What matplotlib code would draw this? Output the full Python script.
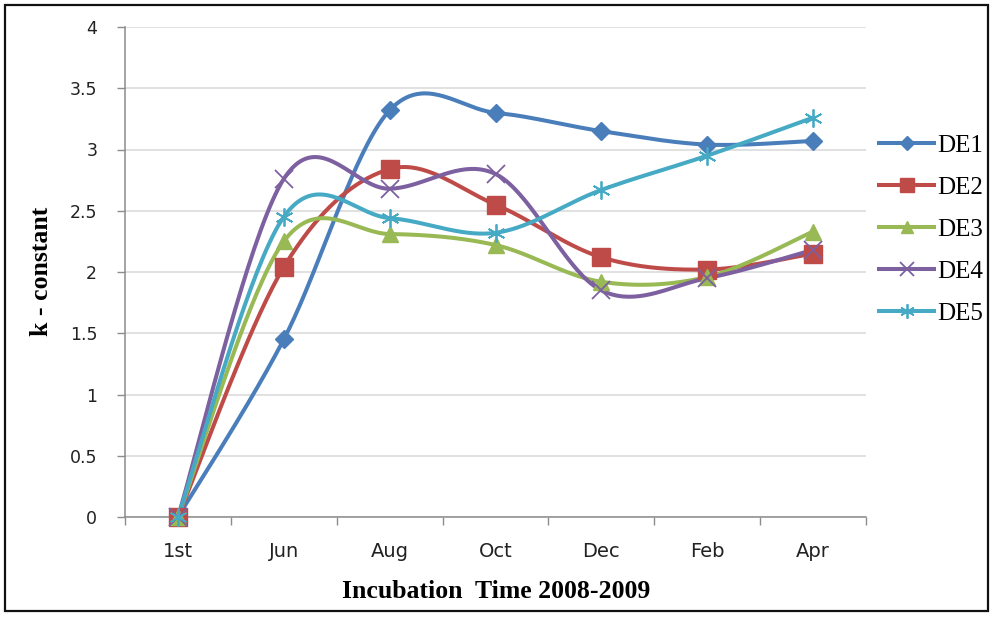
import numpy as np
import matplotlib
matplotlib.use("Agg")
import matplotlib.pyplot as plt
from matplotlib.patches import Rectangle

# Sampling months and decomposition constants for each plot
months = ["1st", "Jun", "Aug", "Oct", "Dec", "Feb", "Apr"]
de1 = [0.0, 1.45, 3.32, 3.30, 3.15, 3.04, 3.07]
de2 = [0.0, 2.04, 2.84, 2.55, 2.12, 2.02, 2.15]
de3 = [0.0, 2.25, 2.31, 2.22, 1.92, 1.96, 2.33]
de4 = [0.0, 2.76, 2.68, 2.80, 1.85, 1.95, 2.18]
de5 = [0.0, 2.45, 2.44, 2.32, 2.67, 2.95, 3.26]
series_names = ["DE1", "DE2", "DE3", "DE4", "DE5"]
series_vals = [de1, de2, de3, de4, de5]

colors = ["#4A7EBB", "#BE4B48", "#98B954", "#7D60A0", "#46AAC5"]
markers = ["D", "s", "^", "x", (6, 2, 0)]
msizes = [9.5, 12.5, 11.5, 12.5, 13]


def smooth_curve(x, y, n=40):
    """Catmull-Rom style cubic Bezier through every point."""
    x = np.asarray(x, float)
    y = np.asarray(y, float)
    px = np.concatenate([[x[0]], x, [x[-1]]])
    py = np.concatenate([[y[0]], y, [y[-1]]])
    t = np.linspace(0, 1, n)
    xs, ys = [], []
    for i in range(len(x) - 1):
        p0 = np.array([px[i], py[i]])
        p1 = np.array([px[i + 1], py[i + 1]])
        p2 = np.array([px[i + 2], py[i + 2]])
        p3 = np.array([px[i + 3], py[i + 3]])
        c1 = p1 + (p2 - p0) / 6.0
        c2 = p2 - (p3 - p1) / 6.0
        b = (((1 - t) ** 3)[:, None] * p1 + (3 * (1 - t) ** 2 * t)[:, None] * c1
             + (3 * (1 - t) * t ** 2)[:, None] * c2 + (t ** 3)[:, None] * p2)
        xs.append(b[:, 0])
        ys.append(b[:, 1])
    return np.concatenate(xs), np.concatenate(ys)


fig = plt.figure(figsize=(9.93, 6.17), dpi=100)
W, H = 993, 617
ax = fig.add_axes([125 / W, (H - 517) / H, 741 / W, 490 / H])

xpos = np.arange(len(months))
for name, vals, c, m, ms in zip(series_names, series_vals, colors, markers, msizes):
    sx, sy = smooth_curve(xpos, vals)
    ax.plot(sx, sy, color=c, lw=2.9, solid_capstyle="round", zorder=3, clip_on=False)
    mew = 1.3 if (m == "x" or isinstance(m, tuple)) else 1.0
    ax.plot(xpos, vals, linestyle="none", marker=m, markersize=ms, color=c,
            markeredgecolor=c, markeredgewidth=mew, zorder=4, clip_on=False)
    # legend proxy
    ax.plot([], [], color=c, lw=2.9, marker=m, markersize=ms * 0.8,
            markeredgewidth=mew, label=name)

ax.set_xlim(-0.5, len(months) - 0.5)
ax.set_ylim(0, 4)
ax.set_yticks(np.arange(0, 4.01, 0.5))
ax.set_yticklabels(["0", "0.5", "1", "1.5", "2", "2.5", "3", "3.5", "4"],
                   fontfamily="DejaVu Sans", fontsize=12.5, color="#222222")
ax.set_xticks(xpos)
ax.set_xticklabels(months, fontfamily="DejaVu Sans", fontsize=14, color="#222222")
ax.set_xticks(np.arange(-0.5, len(months)), minor=True)
ax.tick_params(axis="x", which="major", length=0, pad=18)
ax.tick_params(axis="x", which="minor", length=6, width=1, color="#8C8C8C",
               direction="out")
ax.tick_params(axis="y", length=6, width=1, color="#8C8C8C", direction="out", pad=14)

ax.grid(axis="y", color="#D9D9D9", lw=1.1, zorder=0)
ax.set_axisbelow(True)
for side in ("top", "right"):
    ax.spines[side].set_visible(False)
for side in ("left", "bottom"):
    ax.spines[side].set_color("#8C8C8C")
    ax.spines[side].set_linewidth(1.1)

ax.set_ylabel("k - constant", fontfamily="Liberation Serif", fontweight="bold",
              fontsize=18.5, va="center")
ax.yaxis.set_label_coords((41 - 125) / 741, (517 - 271) / 490)
ax.set_xlabel("Incubation  Time 2008-2009", fontfamily="Liberation Serif",
              fontweight="bold", fontsize=18.5, va="center")
ax.xaxis.set_label_coords((496 - 125) / 741, (517 - 591) / 490)

leg = fig.legend(loc="upper left", bbox_to_anchor=(879 / W, 1 - 134 / H),
                 frameon=False, prop={"family": "Liberation Serif", "size": 18},
                 handlelength=2.2, handletextpad=0.12, labelspacing=0.78,
                 borderaxespad=0, borderpad=0)

# outer frame
fig.patches.append(Rectangle((5 / W, 6 / H), 983 / W, 606 / H, transform=fig.transFigure,
                             fill=False, edgecolor="#111111", lw=1.6))

fig.savefig("out.png", dpi=100)
